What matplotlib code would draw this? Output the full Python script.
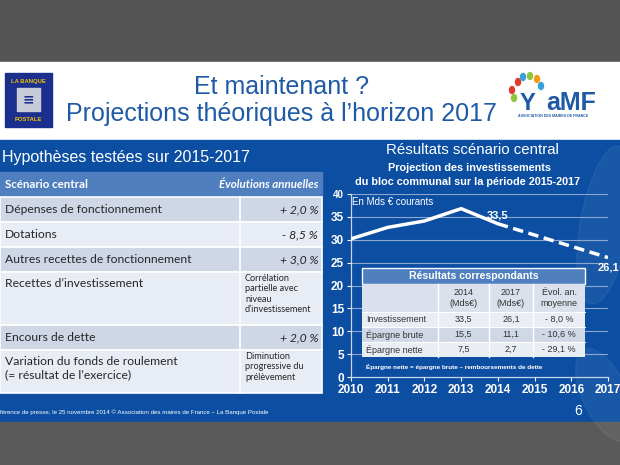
import matplotlib
matplotlib.use("Agg")
import matplotlib.pyplot as plt
from matplotlib.patches import Rectangle, Ellipse

# ---------------- data ----------------
years_hist = [2010, 2011, 2012, 2013, 2014]
invest_hist = [30.2, 32.7, 34.1, 36.8, 33.5]
years_proj = [2014, 2017]
invest_proj = [33.5, 26.1]
y_ticks = [0, 5, 10, 15, 20, 25, 30, 35, 40]
x_ticks = [2010, 2011, 2012, 2013, 2014, 2015, 2016, 2017]

hyp_labels = ["Dépenses de fonctionnement", "Dotations",
              "Autres recettes de fonctionnement", "Recettes d’investissement",
              "Encours de dette",
              "Variation du fonds de roulement\n(= résultat de l’exercice)"]
hyp_values = ["+ 2,0 %", "- 8,5 %", "+ 3,0 %",
              "Corrélation\npartielle avec\nniveau\nd’investissement",
              "+ 2,0 %", "Diminution\nprogressive du\nprélèvement"]

res_rows = ["Investissement", "Épargne brute", "Épargne nette"]
res_2014 = ["33,5", "15,5", "7,5"]
res_2017 = ["26,1", "11,1", "2,7"]
res_evol = ["- 8,0 %", "- 10,6 %", "- 29,1 %"]
res_cols = ["2014\n(Mds€)", "2017\n(Mds€)", "Évol. an.\nmoyenne"]

# ---------------- figure ----------------
W, H = 620, 465
fig = plt.figure(figsize=(6.2, 4.65), dpi=100)
plt.rcParams['font.family'] = ['Liberation Sans', 'DejaVu Sans']
CAL = ['Lato', 'DejaVu Sans']

bg = fig.add_axes([0, 0, 1, 1], zorder=0)
bg.set_xlim(0, W); bg.set_ylim(H, 0); bg.axis('off')

BLUE = '#0b4ea2'
bg.add_patch(Rectangle((0, 0), W, 62, color='#555555'))
bg.add_patch(Rectangle((0, 62), W, 78, color='white'))
bg.add_patch(Rectangle((0, 140), W, 282, color=BLUE))
bg.add_patch(Rectangle((0, 422), W, 43, color='#5a5a5a'))
# decorative faint shapes
bg.add_patch(Ellipse((605, 225), 50, 160, angle=10, color='white', alpha=0.06))
bg.add_patch(Ellipse((605, 395), 45, 100, angle=-25, color='white', alpha=0.06))

# header titles
TITLE_C = '#1f5aa6'
bg.text(281, 87, "Et maintenant ?", fontsize=18, color=TITLE_C, ha='center', va='center')
bg.text(281, 114, "Projections théoriques à l’horizon 2017", fontsize=18, color=TITLE_C,
        ha='center', va='center')

# La Banque Postale logo
bg.add_patch(Rectangle((5, 73), 47, 54, color='#1b2f8e'))
bg.text(28.5, 81, "LA BANQUE", fontsize=4.2, color='#f2c200', ha='center', va='center',
        fontweight='bold')
bg.add_patch(Rectangle((17, 88), 23, 23, color='#c8ccd8'))
bg.text(28.5, 99.5, "\u2261", fontsize=10, color='#1b2f8e', ha='center', va='center',
        fontweight='bold', family='DejaVu Sans')
bg.text(28.5, 119, "POSTALE", fontsize=4.2, color='#f2c200', ha='center', va='center',
        fontweight='bold')

# AMF logo
leaf_cols = ['#e03c31', '#3aa0d8', '#8cc63f', '#f39c12', '#e03c31', '#3aa0d8', '#8cc63f']
leaf_pos = [(518, 82), (523, 77), (530, 76), (537, 79), (512, 90), (541, 86), (514, 98)]
for (lx, ly), c in zip(leaf_pos, leaf_cols):
    bg.add_patch(Ellipse((lx, ly), 5, 7, color=c))
bg.text(527, 103, "Y", fontsize=17, color='#1f5aa6', ha='center', va='center',
        fontweight='bold')
bg.text(571, 103, "aMF", fontsize=18, color='#1f5aa6', ha='center', va='center',
        fontweight='bold')
bg.text(553, 116, "ASSOCIATION DES MAIRES DE FRANCE", fontsize=2.6, color='#1f5aa6',
        ha='center', va='center', fontweight='bold')

# ---------------- left table ----------------
bg.text(2, 157, "Hypothèses testées sur 2015-2017", fontsize=11.5, color='white',
        ha='left', va='center')
TL, TR, TC = 0, 322, 240
HDR_C = '#4f7fbf'
DARK, LIGHT = '#cfd7e7', '#e8ecf4'
bg.add_patch(Rectangle((TL, 172), TR - TL, 25, color=HDR_C))
bg.text(5, 184.5, "Scénario central", fontsize=8.3, color='white', fontweight='bold',
        ha='left', va='center', family=CAL)
bg.text(318, 184.5, "Évolutions annuelles", fontsize=8.3, color='white', fontweight='bold',
        style='italic', ha='right', va='center', family=CAL)
row_edges = [197, 222, 247, 272, 325, 350, 393]
for i in range(len(hyp_labels)):
    y0, y1 = row_edges[i], row_edges[i + 1]
    col = DARK if i % 2 == 0 else LIGHT
    bg.add_patch(Rectangle((TL, y0), TR - TL, y1 - y0, facecolor=col, edgecolor='white',
                           lw=1.2))
    bg.plot([TC, TC], [y0, y1], color='white', lw=1.2)
    multi = "\n" in hyp_values[i]
    if y1 - y0 > 30:
        bg.text(5, y0 + 6, hyp_labels[i], fontsize=8.7, color='#262626', ha='left', va='top',
                family=CAL, linespacing=1.3)
    else:
        bg.text(5, (y0 + y1) / 2, hyp_labels[i], fontsize=8.7, color='#262626', ha='left',
                va='center', family=CAL)
    if multi:
        bg.text(245, y0 + 2, hyp_values[i], fontsize=6.6, color='#262626', ha='left',
                va='top', family=CAL, linespacing=1.2)
    else:
        bg.text(318, (y0 + y1) / 2, hyp_values[i], fontsize=8.7, color='#262626', ha='right',
                va='center', style='italic', family=CAL)

# ---------------- right panel titles ----------------
bg.text(472, 150, "Résultats scénario central", fontsize=10.8, color='white',
        ha='center', va='center')
bg.text(469, 168, "Projection des investissements", fontsize=7.8, color='white',
        ha='center', va='center', fontweight='bold')
bg.text(468, 182, "du bloc communal sur la période 2015-2017", fontsize=7.8, color='white',
        ha='center', va='center', fontweight='bold')

# footer
bg.text(0, 412, "férence de presse, le 25 novembre 2014 © Association des maires de France – La Banque Postale",
        fontsize=4.4, color='white', ha='left', va='center')
bg.text(578, 411, "6", fontsize=10, color='white', ha='center', va='center')

# ---------------- line chart ----------------
ax_x0, ax_x1 = 351, 608
ax_y0, ax_y1 = 194, 377
ax = fig.add_axes([ax_x0 / W, 1 - ax_y1 / H, (ax_x1 - ax_x0) / W, (ax_y1 - ax_y0) / H],
                  zorder=1)
ax.patch.set_alpha(0)
ax.set_xlim(2010, 2017)
ax.set_ylim(0, 40)
for yv in y_ticks[1:]:
    ax.axhline(yv, color='#8fa6cf', lw=0.8, zorder=0)
ax.plot(years_hist, invest_hist, color='white', lw=2.5, solid_capstyle='round', zorder=3)
ax.plot(years_proj, invest_proj, color='white', lw=2.5, ls=(0, (3, 1.6)), zorder=3)
ax.text(2014, 35.3, "33,5", fontsize=8, color='white', ha='center', va='center',
        fontweight='bold')
ax.text(2017, 23.9, "26,1", fontsize=8, color='white', ha='center', va='center',
        fontweight='bold', clip_on=False)
ax.text(2010.03, 38.3, "En Mds € courants", fontsize=7, color='white', ha='left',
        va='center')
ax.set_xticks(x_ticks)
ax.set_yticks(y_ticks)
ax.tick_params(colors='white', labelsize=8.5, length=3, width=0.8, pad=2)
for lab in ax.get_xticklabels() + ax.get_yticklabels():
    lab.set_fontweight('bold')
    lab.set_color('white')
ax.get_yticklabels()[-1].set_fontsize(7)
for s in ['top', 'right']:
    ax.spines[s].set_visible(False)
for s in ['left', 'bottom']:
    ax.spines[s].set_color('#c9d4ea')
    ax.spines[s].set_linewidth(0.9)

# ---------------- inset results table ----------------
ov = fig.add_axes([0, 0, 1, 1], zorder=2)
ov.set_xlim(0, W); ov.set_ylim(H, 0); ov.axis('off')
ov.patch.set_alpha(0)
IL, IR = 362, 585
ov.add_patch(Rectangle((IL, 268), IR - IL, 16, facecolor='#4f7fbf', edgecolor='white',
                       lw=1.0))
ov.text((IL + IR) / 2, 276, "Résultats correspondants", fontsize=7.6, color='white',
        ha='center', va='center', fontweight='bold')
col_edges = [IL, 438, 489, 533, IR]
row_e = [284, 312, 327, 342, 357]
row_cols = ['#dbe1ec', '#e9edf4', '#d0d8e6', '#e9edf4']
for r in range(4):
    ov.add_patch(Rectangle((IL, row_e[r]), IR - IL, row_e[r + 1] - row_e[r],
                           facecolor=row_cols[r], edgecolor='none'))
for cx in col_edges[1:-1]:
    ov.plot([cx, cx], [284, 357], color='white', lw=1.0)
for r in row_e[1:-1]:
    ov.plot([IL, IR], [r, r], color='white', lw=0.8)
TXT = '#333333'
for j, ctext in enumerate(res_cols):
    cx = (col_edges[j + 1] + col_edges[j + 2]) / 2
    ov.text(cx, 298, ctext, fontsize=6.5, color=TXT, ha='center', va='center',
            linespacing=1.15)
for i in range(3):
    cy = (row_e[i + 1] + row_e[i + 2]) / 2
    ov.text(366, cy, res_rows[i], fontsize=6.5, color=TXT, ha='left', va='center')
    for j, vals in enumerate([res_2014, res_2017, res_evol]):
        cx = (col_edges[j + 1] + col_edges[j + 2]) / 2
        ov.text(cx, cy, vals[i], fontsize=6.5, color=TXT, ha='center', va='center')
ov.text(366, 367, "Épargne nette = épargne brute – remboursements de dette", fontsize=4.6,
        color='white', ha='left', va='center', fontweight='bold')

fig.savefig("out.png", dpi=100)
